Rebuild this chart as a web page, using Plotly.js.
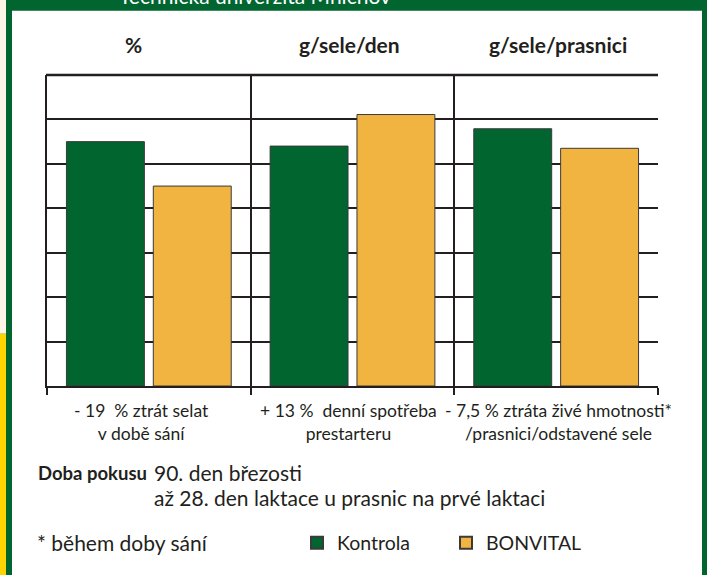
<!DOCTYPE html>
<html>
<head>
<meta charset="utf-8" />
<script src="https://cdn.plot.ly/plotly-3.0.1.min.js"></script>
<style>
  html, body { margin: 0; padding: 0; background: #fff; }
  #chart { width: 707px; height: 575px; }
</style>
</head>
<body>
<div id="chart"></div>
<script>
  // values (grid units, axis has no labels)
  const groups = [0, 1, 2];
  const headers = ['%', 'g/sele/den', 'g/sele/prasnici'];
  const categoryLabels = [
    '- 19  % ztrát selat<br>v době sání',
    '+ 13 %  denní spotřeba<br>prestarteru',
    '- 7,5 % ztráta živé hmotnosti*<br>/prasnici/odstavené sele'
  ];
  const kontrola = [5.5, 5.4, 5.79];
  const bonvital = [4.5, 6.11, 5.35];
  const seriesNames = ['Kontrola', 'BONVITAL'];
  const yMax = 7;

  const green = '#00652f';
  const yellow = '#f2b441';
  const ink = '#231f20';
  const font = 'Lato, "Open Sans", sans-serif';

  // plot area in pixels: x 47..658, y 75..390
  const L = 47, R = 658, T = 75, B = 390;
  const px = x => (x - L) / (R - L);
  const py = y => (B - y) / (B - T);

  const traces = [
    {
      type: 'bar', x: groups, y: kontrola, name: seriesNames[0],
      marker: { color: green, line: { color: '#3a3a3a', width: 1 } },
      hoverinfo: 'skip'
    },
    {
      type: 'bar', x: groups, y: bonvital, name: seriesNames[1],
      marker: { color: yellow, line: { color: '#3a3a3a', width: 1 } },
      hoverinfo: 'skip'
    }
  ];

  const annotations = [];
  // top banner text, mostly cut off
  annotations.push({
    text: 'Technická univerzita Mnichov', xref: 'paper', yref: 'paper',
    x: px(117), y: py(9), xanchor: 'left', yanchor: 'bottom', showarrow: false,
    font: { family: font, size: 21, color: '#ffffff' }
  });
  const headerX = [133, 349, 558];
  headers.forEach((h, i) => {
    annotations.push({
      text: '<b>' + h + '</b>', xref: 'paper', yref: 'paper',
      x: px(headerX[i]), y: py(44), xanchor: 'center', yanchor: 'middle', showarrow: false,
      font: { family: font, size: 21, color: ink }
    });
  });
  const labelShift = [-7, -4, 2];
  categoryLabels.forEach((t, i) => {
    annotations.push({
      text: t, xref: 'x', yref: 'paper', x: groups[i], xshift: labelShift[i],
      y: py(402), xanchor: 'center', yanchor: 'top', showarrow: false,
      font: { family: font, size: 17.5, color: ink }
    });
  });
  annotations.push({
    text: '<b>Doba pokusu</b>', xref: 'paper', yref: 'paper',
    x: px(36), y: py(478), xanchor: 'left', yanchor: 'middle', showarrow: false,
    font: { family: font, size: 18.5, color: ink }
  });
  annotations.push({
    text: '90. den březosti', xref: 'paper', yref: 'paper',
    x: px(152), y: py(478), xanchor: 'left', yanchor: 'middle', showarrow: false,
    font: { family: font, size: 21, color: ink }
  });
  annotations.push({
    text: 'až 28. den laktace u prasnic na prvé laktaci', xref: 'paper', yref: 'paper',
    x: px(152), y: py(503), xanchor: 'left', yanchor: 'middle', showarrow: false,
    font: { family: font, size: 21, color: ink }
  });
  annotations.push({
    text: '* během doby sání', xref: 'paper', yref: 'paper',
    x: px(35), y: py(549), xanchor: 'left', yanchor: 'middle', showarrow: false,
    font: { family: font, size: 21, color: ink }
  });

  const shapes = [
    // white card inside the green frame
    { type: 'rect', xref: 'paper', yref: 'paper', layer: 'below',
      x0: px(12), x1: px(702), y0: py(600), y1: py(10),
      fillcolor: '#ffffff', line: { width: 0 } },
    // left edge strip
    { type: 'rect', xref: 'paper', yref: 'paper', layer: 'below',
      x0: px(-2), x1: px(6), y0: py(337), y1: py(-2),
      fillcolor: '#fdf6e6', line: { width: 0 } },
    { type: 'rect', xref: 'paper', yref: 'paper', layer: 'below',
      x0: px(-2), x1: px(6), y0: py(600), y1: py(337),
      fillcolor: '#ffd400', line: { width: 0 } },
    // top rule of the grid (plotly drops the grid line at the range edge)
    { type: 'line', xref: 'paper', yref: 'paper', layer: 'above',
      x0: px(46), x1: 1, y0: 1, y1: 1,
      line: { color: ink, width: 2.5 } }
  ];

  const layout = {
    width: 707, height: 575,
    margin: { l: L, r: 707 - R, t: T, b: 575 - B, pad: 0 },
    paper_bgcolor: green,
    plot_bgcolor: 'rgba(0,0,0,0)',
    barmode: 'group',
    bargap: 0.147,
    bargroupgap: 0.103,
    showlegend: true,
    legend: {
      orientation: 'h', xref: 'paper', yref: 'paper',
      x: px(297), y: py(549), xanchor: 'left', yanchor: 'middle',
      font: { family: font, size: 19.5, color: ink },
      bgcolor: 'rgba(0,0,0,0)', entrywidth: 104, tracegroupgap: 0, itemsizing: 'constant'
    },
    xaxis: {
      range: [-0.5, 2.5],
      tickvals: [-0.5, 0.5, 1.5, 2.5], ticktext: ['', '', '', ''],
      ticks: 'outside', ticklen: 7, tickwidth: 2, tickcolor: ink,
      showgrid: true, gridcolor: ink, gridwidth: 2,
      showline: true, linecolor: ink, linewidth: 2,
      zeroline: false, fixedrange: true
    },
    yaxis: {
      range: [0, yMax], dtick: 1, tick0: 0,
      showticklabels: false, ticks: '',
      showgrid: true, gridcolor: ink, gridwidth: 2,
      showline: true, linecolor: ink, linewidth: 2,
      zeroline: false, fixedrange: true
    },
    annotations: annotations,
    shapes: shapes
  };

  Plotly.newPlot('chart', traces, layout, { displayModeBar: false, staticPlot: true });
</script>
</body>
</html>
